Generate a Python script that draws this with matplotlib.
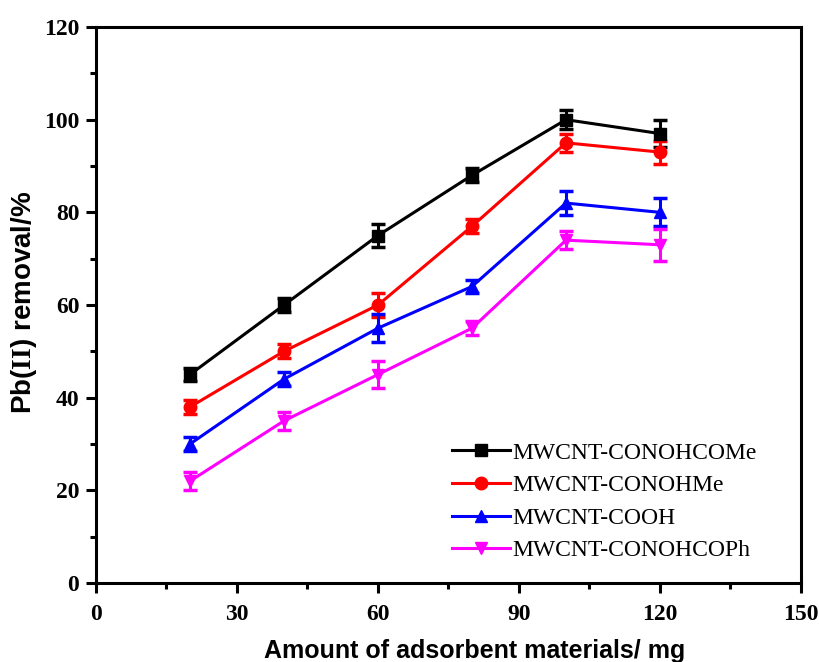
import matplotlib.pyplot as plt
from matplotlib.lines import Line2D
from matplotlib.ticker import MultipleLocator

amount = [20, 40, 60, 80, 100, 120]

conohcome = [45, 60, 75, 88, 100, 97]
conohcome_err = [1.5, 1.5, 2.5, 1.5, 2, 3]
conohme = [38, 50, 60, 77, 95, 93]
conohme_err = [1.5, 1.5, 2.5, 1.5, 2, 2.5]
cooh = [30, 44, 55, 64, 82, 80]
cooh_err = [1.5, 1.5, 3, 1.5, 2.5, 3]
conohcoph = [22, 35, 45, 55, 74, 73]
conohcoph_err = [2, 2, 3, 1.5, 2, 3.5]

labels = ['MWCNT-CONOHCOMe', 'MWCNT-CONOHMe', 'MWCNT-COOH', 'MWCNT-CONOHCOPh']

plt.rcParams['mathtext.fontset'] = 'custom'
plt.rcParams['mathtext.cal'] = 'Liberation Serif:bold'

fig = plt.figure(figsize=(8.19, 6.62), dpi=100)
ax = fig.add_axes([0.1172, 0.1193, 0.8608, 0.8399])

series = [
    (conohcome, conohcome_err, 'black', 's'),
    (conohme, conohme_err, 'red', 'o'),
    (cooh, cooh_err, 'blue', '^'),
    (conohcoph, conohcoph_err, 'magenta', 'v'),
]
handles = []
for (y, err, c, m), lab in zip(series, labels):
    ax.errorbar(amount, y, yerr=err, color=c, marker=m, markersize=9,
                linewidth=2.2, elinewidth=2.2, capsize=5, capthick=2.5)
    handles.append(Line2D([], [], color=c, marker=m, markersize=9,
                          linewidth=2.2, label=lab))

ax.set_xlim(0, 150)
ax.set_ylim(0, 120)
ax.xaxis.set_major_locator(MultipleLocator(30))
ax.xaxis.set_minor_locator(MultipleLocator(15))
ax.yaxis.set_major_locator(MultipleLocator(20))
ax.yaxis.set_minor_locator(MultipleLocator(10))

for s in ax.spines.values():
    s.set_linewidth(2.2)
ax.tick_params(which='major', direction='out', length=7, width=2.2,
               top=False, right=False, pad=5)
ax.tick_params(axis='x', which='major', pad=8)
ax.tick_params(which='minor', direction='out', length=4, width=2.2,
               top=False, right=False)
for t in ax.get_xticklabels() + ax.get_yticklabels():
    t.set_fontfamily('Liberation Serif')
    t.set_fontweight('bold')
    t.set_fontsize(17)

ax.set_xlabel('Amount of adsorbent materials/ mg', fontfamily='Liberation Sans',
              fontweight='bold', fontsize=18)
ax.xaxis.set_label_coords((475 - 96) / 705, -0.1)
ax.set_ylabel(r'Pb($\mathcal{II}$) removal/%', fontfamily='Liberation Sans',
              fontweight='bold', fontsize=20)
ax.yaxis.set_label_coords(-0.081, 0.505)

ax.legend(handles=handles, loc='upper left',
          bbox_to_anchor=(452 / 819, 1 - 442 / 662),
          bbox_transform=fig.transFigure, frameon=False, borderpad=0,
          borderaxespad=0,
          prop={'family': 'Liberation Serif', 'size': 17},
          handlelength=2.45, handletextpad=0.1, labelspacing=0.47)

fig.savefig('out.png', dpi=100)
